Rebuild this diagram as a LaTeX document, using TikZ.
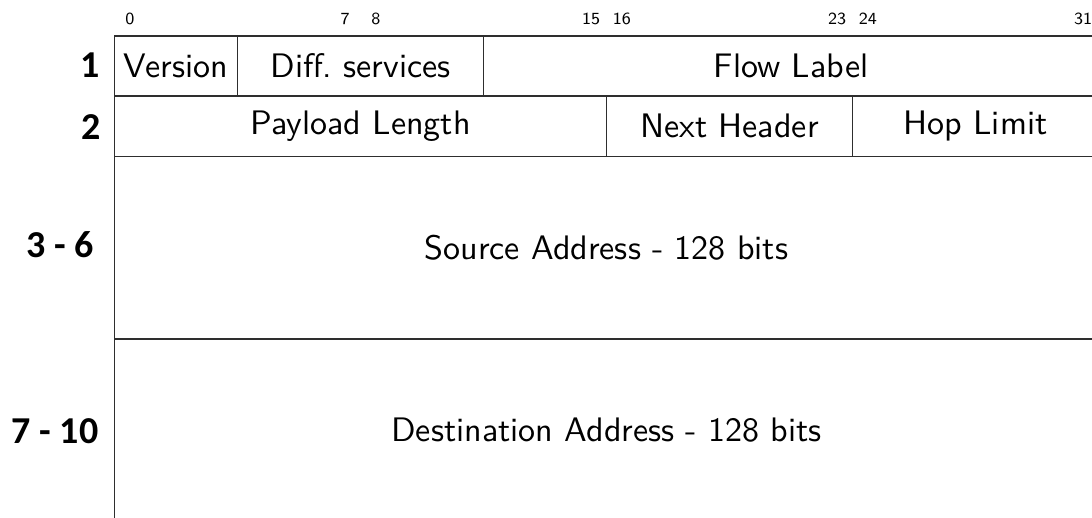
\documentclass[tikz,border=0pt]{standalone}
\usepackage{fontspec}
\newfontfamily\cellfont{lmsans10-regular.otf}
\newfontfamily\bitfont{lmsans8-regular.otf}
\newfontfamily\rowfont{Carlito}
\begin{document}
\begin{tikzpicture}[x=1pt,y=-1pt,
  cell/.style={rectangle,draw=black!82,line width=1.6pt,inner sep=0pt,outer sep=0pt,
    font=\cellfont\fontsize{34}{40}\selectfont},
  bitno/.style={anchor=base,inner sep=0pt,font=\bitfont\fontsize{17}{20}\selectfont},
  rowno/.style={inner sep=0pt,font=\rowfont\bfseries\fontsize{38}{44}\selectfont}]
\useasboundingbox (0,0) rectangle (1092,517);
\clip (0,0) rectangle (1092,517);

% bit positions above the header (bit width 30.75, first bit starts at 114.5)
\foreach \b in {0,7,8,15,16,23,24,31}
  \node[bitno] (bit\b) at ({114.5+(\b+0.5)*30.75},24) {\b};

% word 1
\node[cell,minimum width=123pt,minimum height=60pt] (ver) at (176,66) {Version};
\node[cell,minimum width=246pt,minimum height=60pt] (diff) at (360.5,66) {Diff.\ services};
\node[cell,minimum width=615pt,minimum height=60pt] (flow) at (791,66) {Flow Label};

% word 2
\node[cell,minimum width=492pt,minimum height=60.5pt] (plen) at (360.5,126.25) {Payload Length};
\node[cell,minimum width=246pt,minimum height=60.5pt] (next) at (729.5,126.25) {Next Header};
\node[cell,minimum width=246pt,minimum height=60.5pt] (hop) at (975.5,126.25) {Hop Limit};

% addresses
\node[cell,minimum width=984pt,minimum height=182.5pt] (src) at (606.5,247.75) {Source Address - 128 bits};
\node[cell,minimum width=984pt,minimum height=182.5pt] (dst) at (606.5,430.25) {Destination Address - 128 bits};

% word numbers
\node[rowno] (w1) at (90.5,65) {1};
\node[rowno] (w2) at (91,127.5) {2};
\node[rowno] (w3) at (60.5,244.5) {3 - 6};
\node[rowno] (w7) at (55,431.5) {7 - 10};
\end{tikzpicture}
\end{document}
